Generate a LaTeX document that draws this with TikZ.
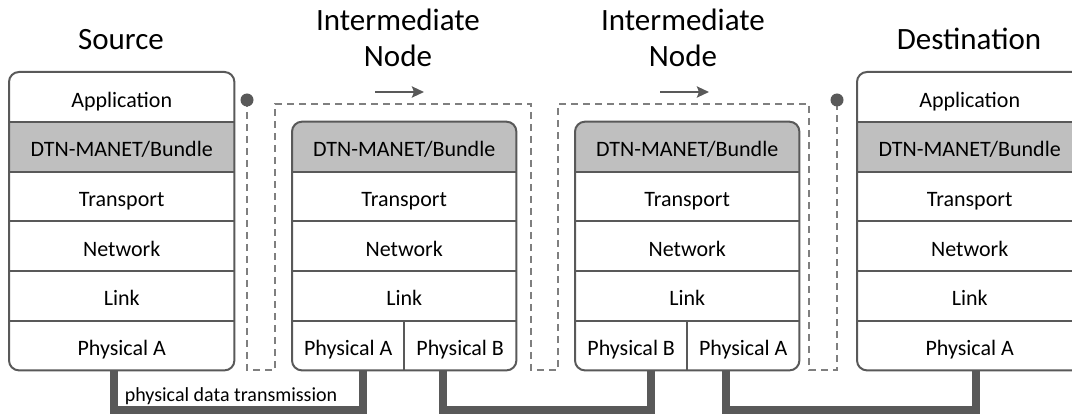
\documentclass[tikz,border=0pt]{standalone}
\usepackage{fontspec}
\setmainfont{Carlito}
\usetikzlibrary{arrows.meta}

\definecolor{edge}{HTML}{595959}
\definecolor{bundle}{HTML}{BFBFBF}
\definecolor{guidegray}{HTML}{7F7F7F}

\tikzset{
  cell/.style={inner sep=0pt, anchor=north west, minimum height=49.67pt,
               text height=24pt, text depth=4pt,
               font=\fontsize{22}{25}\selectfont},
  frame/.style={draw=edge, line width=2pt, rounded corners=10pt},
  divider/.style={draw=edge, line width=2pt},
  title/.style={font=\fontsize{31}{36}\selectfont, anchor=base, align=center},
  guide/.style={draw=guidegray, line width=2pt, dash pattern=on 7pt off 5pt},
  knob/.style={fill=edge},
  flow/.style={draw=edge, line width=2.8pt, -{Stealth[length=12pt,width=11pt,inset=2pt]}},
  wire/.style={draw=edge, line width=8pt, line join=miter},
  caption/.style={font=\fontsize{20}{22}\selectfont, inner sep=0pt}
}

\begin{document}
\begin{tikzpicture}[x=1pt, y=-1pt]
\useasboundingbox (0,0) rectangle (1072,414);
\clip (0,0) rectangle (1072,414);

% ---------- titles ----------
\node[title] (tsrc) at (121,50) {Source};
\node[title] (tint1) at (398,67) {Intermediate\\Node};
\node[title] (tint2) at (683,67) {Intermediate\\Node};
\node[title] (tdst) at (969,50) {Destination};

% ---------- bundle layer shading ----------
\fill[bundle] (9,121.67) rectangle (234,171.33);
\fill[bundle] (857,121.67) rectangle (1082,171.33);
\begin{scope}
  \clip[rounded corners=10pt] (292,121.67) rectangle (516,370);
  \fill[bundle] (292,121.67) rectangle (516,171.33);
\end{scope}
\begin{scope}
  \clip[rounded corners=10pt] (575,121.67) rectangle (799,370);
  \fill[bundle] (575,121.67) rectangle (799,171.33);
\end{scope}

% ---------- source stack ----------
\node[cell, minimum width=225pt] (s1) at (9,72)     {Application};
\node[cell, minimum width=225pt] (s2) at (9,121.67) {DTN-MANET/Bundle};
\node[cell, minimum width=225pt] (s3) at (9,171.33) {Transport};
\node[cell, minimum width=225pt] (s4) at (9,221)    {Network};
\node[cell, minimum width=225pt] (s5) at (9,270.67) {Link};
\node[cell, minimum width=225pt] (s6) at (9,320.33) {Physical A};
\foreach \r in {1,...,5}
  \draw[divider] (s\r.south west) -- (s\r.south east);
\draw[frame] (s1.north west) rectangle (s6.south east);

% ---------- first intermediate stack ----------
\node[cell, minimum width=224pt] (p2) at (292,121.67) {DTN-MANET/Bundle};
\node[cell, minimum width=224pt] (p3) at (292,171.33) {Transport};
\node[cell, minimum width=224pt] (p4) at (292,221)    {Network};
\node[cell, minimum width=224pt] (p5) at (292,270.67) {Link};
\node[cell, minimum width=112pt] (p6a) at (292,320.33) {Physical A};
\node[cell, minimum width=112pt] (p6b) at (404,320.33) {Physical B};
\foreach \r in {2,...,5}
  \draw[divider] (p\r.south west) -- (p\r.south east);
\draw[divider] (p6a.north east) -- (p6a.south east);
\draw[frame] (p2.north west) rectangle (p6b.south east);

% ---------- second intermediate stack ----------
\node[cell, minimum width=224pt] (q2) at (575,121.67) {DTN-MANET/Bundle};
\node[cell, minimum width=224pt] (q3) at (575,171.33) {Transport};
\node[cell, minimum width=224pt] (q4) at (575,221)    {Network};
\node[cell, minimum width=224pt] (q5) at (575,270.67) {Link};
\node[cell, minimum width=112pt] (q6b) at (575,320.33) {Physical B};
\node[cell, minimum width=112pt] (q6a) at (687,320.33) {Physical A};
\foreach \r in {2,...,5}
  \draw[divider] (q\r.south west) -- (q\r.south east);
\draw[divider] (q6b.north east) -- (q6b.south east);
\draw[frame] (q2.north west) rectangle (q6a.south east);

% ---------- destination stack ----------
\node[cell, minimum width=225pt] (d1) at (857,72)     {Application};
\node[cell, minimum width=225pt] (d2) at (857,121.67) {DTN-MANET/Bundle};
\node[cell, minimum width=225pt] (d3) at (857,171.33) {Transport};
\node[cell, minimum width=225pt] (d4) at (857,221)    {Network};
\node[cell, minimum width=225pt] (d5) at (857,270.67) {Link};
\node[cell, minimum width=225pt] (d6) at (857,320.33) {Physical A};
\foreach \r in {1,...,5}
  \draw[divider] (d\r.south west) -- (d\r.south east);
\draw[frame] (d1.north west) rectangle (d6.south east);

% ---------- bundle-layer path (dashed) ----------
\coordinate (kL) at (247,100);
\coordinate (kR) at (837,100);
\draw[guide] (kL) -- (247,370) -- (275,370) -- (275,104) -- (531,104)
  -- (531,370) -- (558,370) -- (558,104) -- (809,104) -- (809,370)
  -- (837,370) -- (kR);
\fill[knob] (kL) circle (6.5pt);
\fill[knob] (kR) circle (6.5pt);

% ---------- direction arrows ----------
\coordinate (f1s) at (375,92);
\coordinate (f1e) at (424,92);
\coordinate (f2s) at (660,92);
\coordinate (f2e) at (709,92);
\draw[flow] (f1s) -- (f1e);
\draw[flow] (f2s) -- (f2e);

% ---------- physical links ----------
\coordinate (w1a) at (114,370);
\coordinate (w1b) at (362.5,370);
\coordinate (w2a) at (442.5,370);
\coordinate (w2b) at (650.5,370);
\coordinate (w3a) at (725.5,370);
\coordinate (w3b) at (975.5,370);
\draw[wire] (w1a) -- (114,410) -- (362.5,410) -- (w1b);
\draw[wire] (w2a) -- (442.5,410) -- (650.5,410) -- (w2b);
\draw[wire] (w3a) -- (725.5,410) -- (975.5,410) -- (w3b);
\node[caption] (cap) at (231,396) {physical data transmission};

\end{tikzpicture}
\end{document}
